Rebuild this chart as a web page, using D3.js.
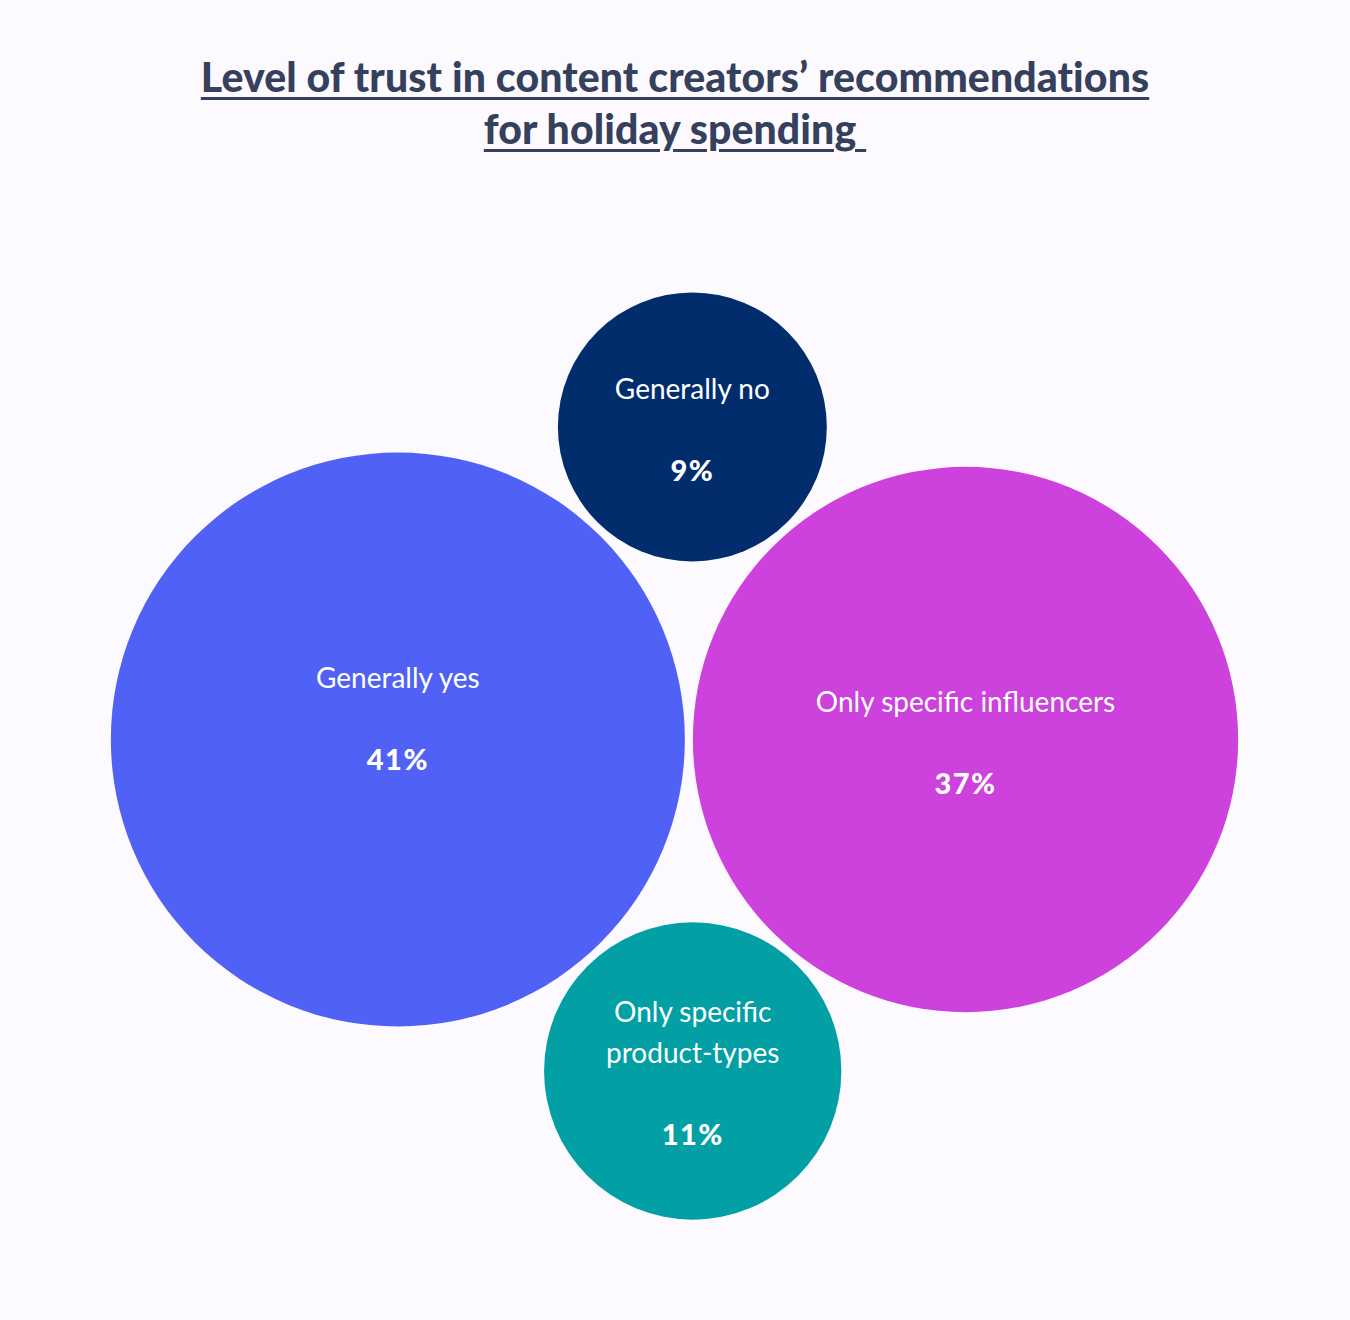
<!DOCTYPE html>
<html>
<head>
<meta charset="utf-8">
<script src="https://cdn.jsdelivr.net/npm/d3@7"></script>
<style>
  html, body { margin: 0; padding: 0; background: #fcfaff; }
  body { width: 1350px; height: 1320px; overflow: hidden; font-family: Lato, "Open Sans", sans-serif; }
  .title {
    position: absolute; left: 0; top: 51px; width: 1350px; text-align: center;
    font-family: Lato, sans-serif; font-weight: 900; font-size: 41px; line-height: 52px;
    color: #35405c; letter-spacing: 0.1px;
    text-decoration: underline; text-decoration-thickness: 3px; text-underline-offset: 5px;
  }
  svg { position: absolute; left: 0; top: 0; }
</style>
</head>
<body>
<div class="title">Level of trust in content creators’ recommendations<br>for holiday spending&nbsp;</div>
<div id="chart"></div>
<script>
// data
const categories = ["Generally yes", "Only specific influencers", "Generally no", "Only specific product-types"];
const labelLines = [["Generally yes"], ["Only specific influencers"], ["Generally no"], ["Only specific", "product-types"]];
const shares = [41, 37, 9, 11];
const colors = ["#4f62f5", "#cd41dc", "#022d6d", "#02a0a5"];

const width = 1350, height = 1320;
const pad = 8;          // gap between bubbles
const centerX = 674.5;  // horizontal middle of the cluster
const rowY = 739.5;     // vertical middle of the two big bubbles

const rScale = d3.scaleSqrt().domain([0, 41]).range([0, 287]);

const nodes = categories.map((c, i) => ({
    name: c,
    lines: labelLines[i],
    value: shares[i],
    color: colors[i],
    r: rScale(shares[i])
}));

// two big bubbles side by side, touching with a small gap
const [yes, infl, no, prod] = nodes;
const total = yes.r * 2 + pad + infl.r * 2;
yes.x = centerX - total / 2 + yes.r;
yes.y = rowY;
infl.x = yes.x + yes.r + pad + infl.r;
infl.y = rowY;

// small bubbles sit in the notch between the big ones (above / below)
function tangentTo(a, b, r, side) {
    const RA = a.r + r + pad, RB = b.r + r + pad;
    const dx = b.x - a.x, dy = b.y - a.y;
    const d = Math.hypot(dx, dy);
    const along = (RA * RA - RB * RB + d * d) / (2 * d);
    const h = Math.sqrt(RA * RA - along * along);
    return {
        x: a.x + along * dx / d - side * h * dy / d,
        y: a.y + along * dy / d + side * h * dx / d
    };
}
Object.assign(no, tangentTo(yes, infl, no.r, -1));
Object.assign(prod, tangentTo(yes, infl, prod.r, 1));

// vertical placement of the text block inside each bubble
const blockShift = { "Generally yes": -24 };

const svg = d3.select("#chart")
    .append("svg")
    .attr("width", width)
    .attr("height", height);

const g = svg.selectAll("g.bubble")
    .data(nodes)
    .enter()
    .append("g")
    .attr("class", "bubble")
    .attr("transform", d => `translate(${d.x},${d.y})`);

g.append("circle")
    .attr("r", d => d.r)
    .attr("fill", d => d.color);

const lineH = 41;
g.each(function (d) {
    const sel = d3.select(this);
    const shift = blockShift[d.name] || 0;
    const n = d.lines.length;
    const top = -28 + shift - (n - 1) * 21;
    d.lines.forEach((ln, j) => {
        sel.append("text")
            .attr("x", 0)
            .attr("y", top + j * lineH)
            .attr("text-anchor", "middle")
            .attr("fill", "#ffffff")
            .style("font-family", "Lato, sans-serif")
            .style("font-size", "28px")
            .style("font-weight", 400)
            .text(ln);
    });
    sel.append("text")
        .attr("x", 0)
        .attr("y", top + (n - 1) * lineH + 82)
        .attr("text-anchor", "middle")
        .attr("fill", "#ffffff")
        .style("font-family", "Lato, sans-serif")
        .style("font-size", "29px")
        .style("font-weight", 900)
        .style("letter-spacing", "1.5px")
        .text(d.value + "%");
});
</script>
</body>
</html>
